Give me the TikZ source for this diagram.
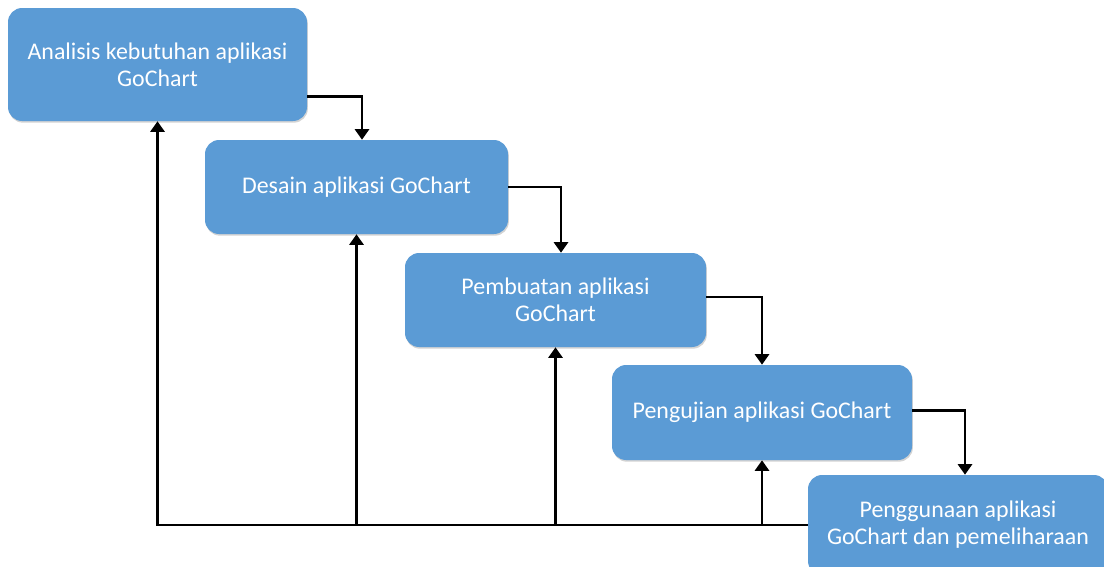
\documentclass[tikz,border=0pt]{standalone}
\usepackage{fontspec}
\setmainfont{Carlito}
\usetikzlibrary{arrows.meta,calc,shadows}
\definecolor{boxblue}{RGB}{91,155,213}

\tikzset{
  stage/.style={draw=none,fill=boxblue,rounded corners=10pt,text=white,align=center,
    font=\fontsize{17}{19.3}\selectfont,
    drop shadow={shadow xshift=0.6pt,shadow yshift=-1.2pt,opacity=0.35}},
  flow/.style={line width=2.1pt,-{Triangle[width=10pt,length=7.5pt]}}
}

\begin{document}
\begin{tikzpicture}[x=0.025cm,y=-0.025cm]
	\useasboundingbox (0,0) rectangle (1104,566);
	\node[stage,minimum width=299*0.025cm,minimum height=113*0.025cm] (b1) at (157.5,64.5) {Analisis kebutuhan aplikasi\\GoChart};
	\node[stage,minimum width=303*0.025cm,minimum height=94*0.025cm] (b2) at (356.5,187) {Desain aplikasi GoChart};
	\node[stage,minimum width=301*0.025cm,minimum height=94*0.025cm] (b3) at (555.5,300) {Pembuatan aplikasi\\GoChart};
	\node[stage,minimum width=300*0.025cm,minimum height=95*0.025cm] (b4) at (762,412.5) {Pengujian aplikasi GoChart};
	\node[stage,minimum width=300*0.025cm,minimum height=100*0.025cm] (b5) at (958,525) {Penggunaan aplikasi\\GoChart dan pemeliharaan};
	% alur ke bawah
	\draw[flow] ($(b1.east)+(0,32)$) -| ($(b2.north)+(5.5,0)$);
	\draw[flow] (b2.east) -| ($(b3.north)+(5.5,0)$);
	\draw[flow] ($(b3.east)+(0,-3)$) -| (b4.north);
	\draw[flow] ($(b4.east)+(0,-2)$) -| ($(b5.north)+(7,0)$);
	% umpan balik
	\draw[flow] (b5.west) -| (b1.south);
	\draw[flow] ($(b5.west)!(b2.south)!(b1.south |- b5.west)$) -- (b2.south);
	\draw[flow] ($(b5.west)!(b3.south)!(b1.south |- b5.west)$) -- (b3.south);
	\draw[flow] ($(b5.west)!(b4.south)!(b1.south |- b5.west)$) -- (b4.south);
\end{tikzpicture}
\end{document}
